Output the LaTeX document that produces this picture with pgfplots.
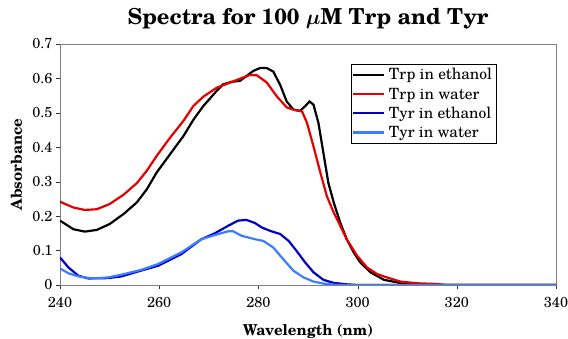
\documentclass[border=0pt]{standalone}
\usepackage{fontspec}
\setmainfont{TeX Gyre Schola}
\usepackage{amsmath}
\usepackage{pgfplots}
\pgfplotsset{compat=1.18}
\definecolor{trpwater}{RGB}{230,0,0}
\definecolor{tyreth}{RGB}{0,0,205}
\definecolor{tyrwater}{RGB}{60,125,255}
\pgfplotsset{legend image code/.code={\draw[#1,line width=2.2pt] (0pt,0pt) -- (31pt,0pt);}}
\begin{document}
\begin{tikzpicture}
\begin{axis}[
  scale only axis, width=496pt, height=241pt,
  xmin=240, xmax=340, ymin=0, ymax=0.7,
  xtick={240,260,280,300,320,340}, xticklabels={240,260,280,300,320,340},
  ytick={0,0.1,0.2,0.3,0.4,0.5,0.6,0.7}, yticklabels={0,0.1,0.2,0.3,0.4,0.5,0.6,0.7},
  tick align=outside, tick pos=left,
  major tick length=4pt,
  axis line style={gray},
  tick style={black!80},
  yticklabel style={font=\fontsize{14.5}{17}\selectfont},
  xticklabel style={font=\fontsize{14.5}{17}\selectfont, yshift=-5pt},
  title={Spectra for 100 $\boldsymbol{\mu}$M Trp and Tyr\rule{0pt}{30pt}},
  title style={font=\fontsize{22}{26}\selectfont\bfseries, at={(rel axis cs:0.5,1)}, anchor=base, yshift=13pt, inner sep=0pt},
  xlabel={Wavelength (nm)}, ylabel={Absorbance},
  xlabel style={font=\fontsize{15}{18}\selectfont\bfseries, at={(rel axis cs:0.5,0)}, anchor=base, yshift=-51pt, inner sep=0pt},
  ylabel style={font=\fontsize{15}{18}\selectfont\bfseries, at={(rel axis cs:0,0.5)}, anchor=base, yshift=38pt, inner sep=0pt},
  legend style={at={(0.88,0.917)}, anchor=north east, draw=black, line width=0.6pt,
    font=\fontsize{15.5}{18}\selectfont, inner sep=1pt, nodes={inner sep=3.2pt}, row sep=0pt},
  legend cell align=left,
]
\addplot[black, line width=2.2pt] coordinates {
(240,0.187)(242.7,0.162)(245,0.155)(247.4,0.16)(250,0.177)(252.8,0.206)(255.5,0.24)(257.5,0.278)(259.5,0.327)(262.2,0.38)(264.9,0.433)(266.9,0.48)(268.9,0.52)(271.6,0.564)(272.9,0.583)(274.6,0.59)(276.3,0.593)(277.6,0.607)(279,0.622)(280.3,0.63)(281.7,0.63)(283,0.62)(284.4,0.581)(285.7,0.533)(287.1,0.509)(288.4,0.506)(289.4,0.519)(290.3,0.533)(291.1,0.524)(292.1,0.471)(293.1,0.384)(294.1,0.297)(295.2,0.239)(296.5,0.181)(297.8,0.133)(299.2,0.095)(300.5,0.066)(302.6,0.037)(305.3,0.015)(308.6,0.006)(311,0.002)(315,0)(340,0)
};
\addlegendentry{Trp in ethanol}
\addplot[trpwater, line width=2.2pt] coordinates {
(240,0.242)(242.7,0.225)(245,0.218)(247.4,0.22)(250,0.235)(252.8,0.262)(255.5,0.296)(257.5,0.332)(259.5,0.375)(262.2,0.428)(264.9,0.477)(266.9,0.52)(268.9,0.547)(271.6,0.573)(274.3,0.588)(277,0.603)(278.3,0.61)(279.7,0.609)(281.7,0.588)(283.7,0.548)(285.7,0.516)(287.1,0.509)(288.8,0.504)(289.8,0.471)(291.1,0.403)(292.5,0.326)(293.8,0.258)(295.2,0.21)(296.5,0.172)(297.8,0.133)(299.9,0.085)(301.9,0.051)(303.9,0.032)(305.9,0.022)(308.6,0.01)(312,0.005)(316,0.003)(318,0)(340,0)
};
\addlegendentry{Trp in water}
\addplot[tyreth, line width=2.2pt] coordinates {
(240,0.08)(241.7,0.051)(243.7,0.027)(245.7,0.019)(249.7,0.02)(252.4,0.025)(256.4,0.042)(259.8,0.056)(264.5,0.09)(268.5,0.133)(271.2,0.15)(273.9,0.172)(275.9,0.187)(277.6,0.189)(279.3,0.18)(280.7,0.167)(282.4,0.157)(284.4,0.148)(286.1,0.128)(287.7,0.099)(289.4,0.066)(291.1,0.037)(293.1,0.015)(295.2,0.006)(297.8,0.002)(300,0)(340,0)
};
\addlegendentry{Tyr in ethanol}
\addplot[tyrwater, line width=2.2pt] coordinates {
(240,0.048)(241.7,0.034)(243.7,0.025)(246.4,0.019)(249.7,0.022)(252.4,0.03)(256.4,0.044)(259.8,0.061)(264.5,0.095)(268.5,0.133)(271.2,0.145)(273.9,0.156)(274.9,0.156)(276.6,0.143)(279.3,0.133)(281,0.128)(283,0.109)(285,0.075)(287.1,0.041)(289.1,0.022)(291.1,0.01)(293.1,0.004)(296,0)(340,0)
};
\addlegendentry{Tyr in water}
\end{axis}
\pgfresetboundingbox
\path ([xshift=-60pt,yshift=-54pt]current axis.south west) rectangle ([xshift=12pt,yshift=44pt]current axis.north east);
\end{tikzpicture}
\end{document}
